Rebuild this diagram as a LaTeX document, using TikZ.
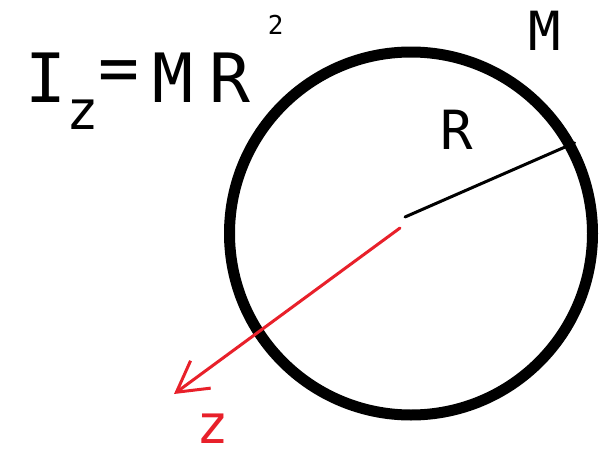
\documentclass[tikz,border=0pt]{standalone}
\usepackage{fontspec}
\usepackage{xcolor}
\usepackage{tikz}
\usetikzlibrary{arrows.meta, positioning}
\newfontfamily\handfont{DejaVu Sans Mono}
\definecolor{inkRed}{HTML}{E8202A}

\begin{document}
\begin{tikzpicture}[
    x=0.5pt, y=-0.5pt,
    ink/.style={inner sep=0pt, text=black},
    ring/.style={draw, circle, line width=5.5pt, minimum size=181.5pt,
                 inner sep=0pt},
    radline/.style={line width=1.5pt, line cap=round},
    zaxis/.style={draw=inkRed, line width=1.5pt, line cap=round,
                  -{Straight Barb[length=15pt, width=17pt]}},
]
\useasboundingbox[fill=white] (0,0) rectangle (600,455);

% ── Formula ──
\node[ink, anchor=base west, font=\handfont\fontsize{34}{34}\selectfont]
    (formula) at (25,102)
    {I\raisebox{-0.4em}{\fontsize{27}{27}\selectfont z}%
     \raisebox{0.15em}{=}\kern0.18em M\kern0.25em
     R\kern0.25em\raisebox{1.0em}{\fontsize{13}{13}\selectfont 2}};

% ── Ring ──
\node[ring] (ring) at (411,233.5) {};
\node[ink, font=\handfont\fontsize{27}{27}\selectfont]
    (mass) at (545,31) {M};
\node[ink, font=\handfont\fontsize{27}{27}\selectfont]
    (rlabel) at (457,130) {R};

% ── Radius and axis ──
\coordinate (rstart) at (405,217);
\coordinate (zstart) at (400,228);
\coordinate (ztip) at (174,394);
\draw[radline] (rstart) -- (ring.29);
\draw[zaxis] (zstart) -- (ztip);
\node[ink, text=inkRed, font=\handfont\fontsize{27}{27}\selectfont]
    (zlabel) at (213,429) {z};
\end{tikzpicture}
\end{document}
